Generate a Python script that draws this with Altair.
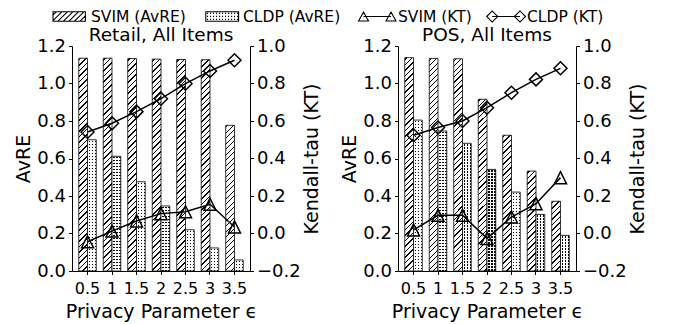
import altair as alt

# ---------------- data ----------------
EPS = ["0.5", "1", "1.5", "2", "2.5", "3", "3.5"]
METHODS = ["SVIM", "CLDP"]
SERIES = ["SVIM (AvRE)", "CLDP (AvRE)", "SVIM (KT)", "CLDP (KT)"]
TITLES = ["Retail, All Items", "POS, All Items"]

RETAIL_SVIM_AVRE = [1.135, 1.135, 1.133, 1.130, 1.128, 1.127, 0.777]
RETAIL_CLDP_AVRE = [0.700, 0.612, 0.476, 0.347, 0.220, 0.123, 0.059]
RETAIL_SVIM_KT = [-0.044, 0.013, 0.067, 0.106, 0.116, 0.156, 0.035]
RETAIL_CLDP_KT = [0.541, 0.588, 0.650, 0.719, 0.799, 0.867, 0.924]

POS_SVIM_AVRE = [1.138, 1.134, 1.132, 0.916, 0.724, 0.533, 0.372]
POS_CLDP_AVRE = [0.805, 0.747, 0.681, 0.542, 0.421, 0.302, 0.190]
POS_SVIM_KT = [0.019, 0.097, 0.097, -0.026, 0.088, 0.159, 0.298]
POS_CLDP_KT = [0.524, 0.565, 0.600, 0.671, 0.751, 0.822, 0.881]

AVRE_TICKS = [0.0, 0.2, 0.4, 0.6, 0.8, 1.0, 1.2]
KT_TICKS = [-0.2, 0.0, 0.2, 0.4, 0.6, 0.8, 1.0]

# ---------------- layout / style ----------------
FONT = "DejaVu Sans"
W, H = 178, 225
PAD_IN, PAD_OUT = 0.285, 0.276
AVRE_MAX = 1.2
STEP = W / (len(EPS) - PAD_IN + 2 * PAD_OUT)
BAR_W = STEP * (1 - PAD_IN) / 2
CLEAR = "rgba(255,255,255,0)"
LEG_Y = -29.5                      # legend row centre, px above the left plot
LEG_LABEL_X = [19, 171, 326, 455]  # legend label starts, px from the left plot's origin


def r4(v):
    return round(v, 4)


def hatch_fill(h, w=BAR_W, period=5.5, lw=1.3):
    """diagonal '/' hatch as a hard-stop linear gradient in bbox units"""
    S = w + h
    k = (w + h) / (w * w + h * h)
    stops = [{"offset": 0, "color": "white"}]
    a = 1.5
    while a < S:
        b = min(a + lw, S)
        nxt = min(a + period, S)
        stops += [
            {"offset": r4(a / S), "color": "white"},
            {"offset": r4(a / S), "color": "black"},
            {"offset": r4(b / S), "color": "black"},
            {"offset": r4(b / S), "color": "white"},
            {"offset": r4(nxt / S), "color": "white"},
        ]
        a += period
    stops.append({"offset": 1, "color": "white"})
    return {"gradient": "linear", "x1": 0, "y1": 0, "x2": r4(k * w), "y2": r4(k * h), "stops": stops}


def stripe_fill(length, along_y, base, mark, period=3.0, size=1.2, phase=1.0):
    """stripes of colour `mark` on `base`, as a hard-stop linear gradient"""
    stops = [{"offset": 0, "color": base}]
    p = phase
    while p < length - 0.3:
        q = min(p + size, length)
        stops += [
            {"offset": r4(p / length), "color": base},
            {"offset": r4(p / length), "color": mark},
            {"offset": r4(q / length), "color": mark},
            {"offset": r4(q / length), "color": base},
        ]
        p += period
    stops.append({"offset": 1, "color": base})
    return {"gradient": "linear", "x1": 0, "y1": 0,
            "x2": 0 if along_y else 1, "y2": 1 if along_y else 0, "stops": stops}


# ---------------- legend symbol paths (units of 8 px, drawn left of the label) ----------------
def f(v):
    return f"{v:.3f}"


def frame(x0, x1, y0, y1):
    return f"M{f(x0)},{f(y0)}L{f(x1)},{f(y0)}L{f(x1)},{f(y1)}L{f(x0)},{f(y1)}Z"


def hatch_patch(x0=-4.75, x1=-0.7, b=0.59, step=0.69):
    parts = [frame(x0, x1, -b, b)]
    c = x0 - b + step * 0.6
    while c < x1 + b:
        xa = max(x0, c - b)
        xb = min(x1, c + b)
        if xb > xa + 0.02:
            parts.append(f"M{f(xa)},{f(c - xa)}L{f(xb)},{f(c - xb)}")
        c += step
    return "".join(parts)


def dot_patch(x0=-4.65, x1=-0.55, b=0.59, step=0.375, d=0.1375):
    parts = [frame(x0, x1, -b, b)]
    y = -b + 0.2
    while y < b - 0.1:
        x = x0 + 0.15
        while x < x1 - 0.15:
            parts.append(f"M{f(x)},{f(y)}h{f(d)}")
            x += step
        y += step
    return "".join(parts)


def tri(cx, s=0.62):
    return f"M{f(cx)},{f(-s * 0.9)}L{f(cx + s)},{f(s * 0.9)}L{f(cx - s)},{f(s * 0.9)}Z"


def dia(cx, d=0.69):
    return f"M{f(cx - d)},0L{f(cx)},{f(-d)}L{f(cx + d)},0L{f(cx)},{f(d)}Z"


LEG_PATHS = [
    hatch_patch(),
    dot_patch(),
    f"M{f(-4.31)},0L{f(-0.875)},0" + tri(-4.31) + tri(-0.875),
    f"M{f(-4.35)},0L{f(-0.88)},0" + dia(-4.35) + dia(-0.88),
]

TRI_PATH = "M0,-1L1,1L-1,1Z"


def panel(title, svim_avre, cldp_avre, svim_kt, cldp_kt, with_legend):
    svim_rows = [{"eps": e, "method": "SVIM", "value": v, "hatch": hatch_fill(v / AVRE_MAX * H)}
                 for e, v in zip(EPS, svim_avre)]
    cldp_rows = [{"eps": e, "method": "CLDP", "value": v,
                  "cols": stripe_fill(BAR_W, False, "white", "black", phase=1.3),
                  "rows": stripe_fill(v / AVRE_MAX * H, True, "white", CLEAR, phase=1.0)}
                 for e, v in zip(EPS, cldp_avre)]
    svim_kt_rows = [{"eps": e, "kt": v} for e, v in zip(EPS, svim_kt)]
    cldp_kt_rows = [{"eps": e, "kt": v} for e, v in zip(EPS, cldp_kt)]

    x_enc = alt.X("eps:O", sort=EPS,
                  scale=alt.Scale(domain=EPS, paddingInner=PAD_IN, paddingOuter=PAD_OUT),
                  axis=alt.Axis(title="Privacy Parameter \u03f5", labelAngle=0, labelFontSize=16,
                                titleFontSize=19, labelPadding=6, titlePadding=6,
                                labelOverlap=False, tickSize=3.5))
    xo_enc = alt.XOffset("method:N", scale=alt.Scale(domain=METHODS))
    y_bar = alt.Y("value:Q", scale=alt.Scale(domain=[0, AVRE_MAX], nice=False),
                  axis=alt.Axis(title="AvRE", values=AVRE_TICKS, format=".1f", labelFontSize=18,
                                titleFontSize=19, tickSize=3.5, labelPadding=3, titlePadding=3))
    y_kt = alt.Y("kt:Q", scale=alt.Scale(domain=[-0.2, 1.0], nice=False, zero=False),
                 axis=alt.Axis(title="Kendall-tau (KT)", orient="right", values=KT_TICKS, format=".1f",
                               labelFontSize=18, titleFontSize=19, tickSize=3.5, labelPadding=3,
                               titlePadding=2, titleAngle=270, titleBaseline="top"))

    svim_bars = alt.Chart(alt.Data(values=svim_rows)).mark_bar(stroke="black", strokeWidth=0.8).encode(
        x=x_enc, xOffset=xo_enc, y=y_bar, fill=alt.Fill("hatch:N", scale=None))
    cldp_cols = alt.Chart(alt.Data(values=cldp_rows)).mark_bar().encode(
        x=x_enc, xOffset=xo_enc, y=y_bar, fill=alt.Fill("cols:N", scale=None))
    cldp_rows_l = alt.Chart(alt.Data(values=cldp_rows)).mark_bar(stroke="black", strokeWidth=0.8).encode(
        x=x_enc, xOffset=xo_enc, y=y_bar, fill=alt.Fill("rows:N", scale=None))
    bars = alt.layer(svim_bars, cldp_cols, cldp_rows_l)

    l1 = alt.Chart(alt.Data(values=svim_kt_rows)).mark_line(color="black", strokeWidth=1.5).encode(x=x_enc, y=y_kt)
    l2 = alt.Chart(alt.Data(values=cldp_kt_rows)).mark_line(color="black", strokeWidth=1.5).encode(x=x_enc, y=y_kt)
    p1 = alt.Chart(alt.Data(values=svim_kt_rows)).mark_point(
        shape=TRI_PATH, size=144, filled=False, stroke="black", strokeWidth=1.5, opacity=1).encode(x=x_enc, y=y_kt)
    p2 = alt.Chart(alt.Data(values=cldp_kt_rows)).mark_point(
        shape="diamond", size=169, filled=False, stroke="black", strokeWidth=1.5, opacity=1).encode(x=x_enc, y=y_kt)
    kt = alt.layer(l1, l2, p1, p2)

    core = alt.layer(bars, kt).resolve_scale(y="independent")

    ttl = alt.Chart(alt.Data(values=[{"t": title}])).mark_text(
        font=FONT, fontSize=18.5, align="center", baseline="alphabetic", color="black").encode(
        text="t:N", x=alt.value(W / 2), y=alt.value(-5))

    layers = [core, ttl]
    if with_legend:
        leg_rows = [{"series": s, "k": i} for i, s in enumerate(SERIES)]
        leg_x = alt.X("k:Q", scale=alt.Scale(domain=list(range(len(SERIES))), range=LEG_LABEL_X), axis=None)
        leg_sym = alt.Chart(alt.Data(values=leg_rows)).mark_point(
            filled=False, stroke="black", strokeWidth=1.1, opacity=1, size=256).encode(
            x=leg_x, y=alt.value(LEG_Y),
            shape=alt.Shape("series:N", scale=alt.Scale(domain=SERIES, range=LEG_PATHS), legend=None))
        leg_txt = alt.Chart(alt.Data(values=leg_rows)).mark_text(
            font=FONT, fontSize=15.5, align="left", baseline="middle", color="black").encode(
            x=leg_x, y=alt.value(LEG_Y), text="series:N")
        layers.append(alt.layer(leg_sym, leg_txt))

    return alt.layer(*layers).resolve_scale(x="independent", y="independent").properties(width=W, height=H)


left = panel(TITLES[0], RETAIL_SVIM_AVRE, RETAIL_CLDP_AVRE, RETAIL_SVIM_KT, RETAIL_CLDP_KT, True)
right = panel(TITLES[1], POS_SVIM_AVRE, POS_CLDP_AVRE, POS_SVIM_KT, POS_CLDP_KT, False)

chart = alt.hconcat(left, right, spacing=148, bounds="flush").properties(
    padding={"left": 6, "top": 0, "right": 0, "bottom": 0}
).configure_view(stroke=None).configure_axis(
    labelFont=FONT, titleFont=FONT, labelColor="black", titleColor="black",
    domainColor="black", tickColor="black", domainWidth=1, tickWidth=1, grid=False,
    titleFontWeight="normal"
)

chart.save("out.html", embed_options={"renderer": "svg", "actions": False})
